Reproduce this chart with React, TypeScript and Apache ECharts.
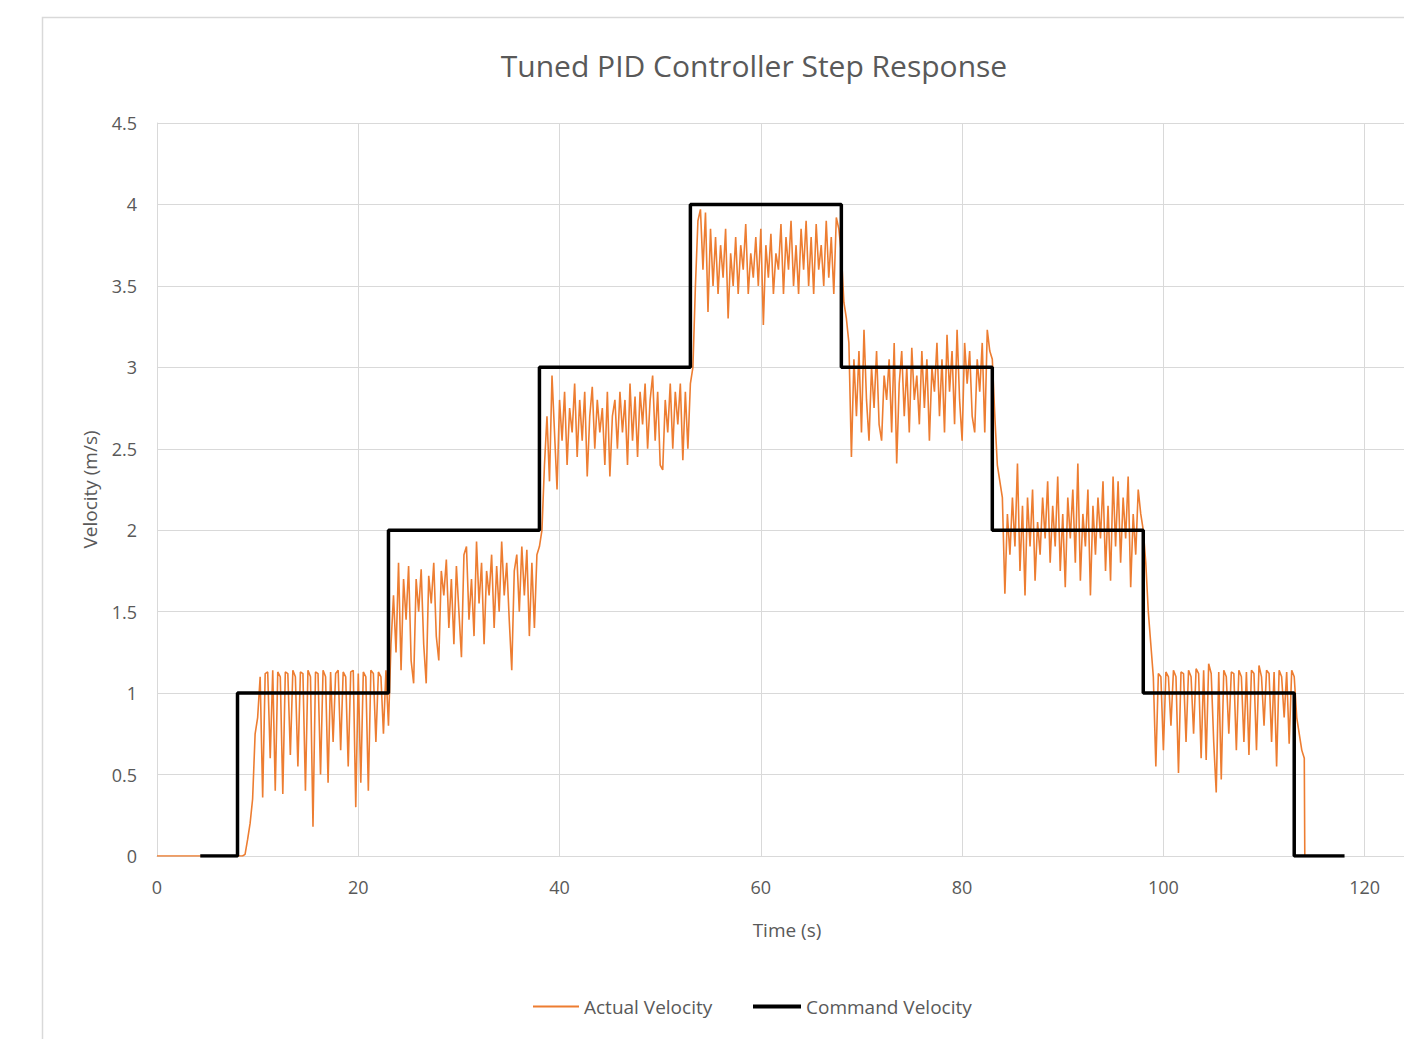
import React, { useEffect, useRef } from "react";
import * as echarts from "echarts";

const title = "Tuned PID Controller Step Response";
const xAxisName = "Time (s)";
const yAxisName = "Velocity (m/s)";
const seriesNames = ["Actual Velocity", "Command Velocity"];

// Command velocity step points (time s, velocity m/s)
const commandTimes = [4.3, 8, 23, 38, 53, 68, 83, 98, 113, 118];
const commandValues = [0, 1, 2, 3, 4, 3, 2, 1, 0, 0];

// Actual velocity: leading flat part and final drop
const actualHead = [[0, 0], [8.5, 0]];
const actualTail = [[114.05, 0]];
const sampleStep = 0.25;

// Samples every 0.25 s, each segment with its start time
const seg1Start = 8.75;
const seg1Values = [0.01, 0.1, 0.2, 0.35, 0.75, 0.85, 1.1, 0.36, 1.12, 1.13, 0.6, 1.14, 0.4, 1.13, 1.1, 0.38, 1.13, 1.12, 0.62, 1.14, 1.1, 0.55, 1.13, 1.12, 0.4, 1.14, 1.1, 0.18, 1.13, 1.12, 0.5, 1.14, 1.1, 0.45, 1.13, 0.7, 1.12, 1.14, 0.65, 1.13, 1.1, 0.55, 1.13, 1.14, 0.3, 1.12, 0.45, 1.13, 1.1, 0.4, 1.14, 1.12, 0.7, 1.13, 1.1, 0.75, 1.14, 0.8];

const seg2Start = 23.25;
const seg2Values = [1.3, 1.6, 1.25, 1.8, 1.14, 1.7, 1.45, 1.78, 1.2, 1.06, 1.7, 1.5, 1.76, 1.3, 1.06, 1.72, 1.55, 1.8, 1.35, 1.2, 1.75, 1.6, 1.82, 1.4, 1.7, 1.3, 1.78, 1.5, 1.22, 1.85, 1.9, 1.45, 1.7, 1.35, 1.93, 1.55, 1.8, 1.3, 1.75, 1.6, 1.85, 1.4, 1.78, 1.5, 1.93, 1.6, 1.8, 1.45, 1.14, 1.75, 1.85, 1.5, 1.9, 1.6, 1.88, 1.35, 1.8, 1.4, 1.85, 1.9];

const seg3Start = 38.25;
const seg3Values = [2.0, 2.4, 2.7, 2.3, 2.95, 2.6, 2.25, 2.8, 2.55, 2.85, 2.4, 2.75, 2.6, 2.9, 2.45, 2.8, 2.55, 2.85, 2.33, 2.7, 2.88, 2.5, 2.8, 2.6, 2.75, 2.4, 2.85, 2.33, 2.7, 2.8, 2.5, 2.85, 2.6, 2.8, 2.4, 2.9, 2.55, 2.82, 2.45, 2.85, 2.65, 2.9, 2.5, 2.8, 2.95, 2.55, 2.85, 2.4, 2.37, 2.8, 2.6, 2.9, 2.5, 2.85, 2.65, 2.9, 2.43, 2.85, 2.5, 2.9];

const seg4Start = 53.25;
const seg4Values = [3.0, 3.5, 3.9, 3.97, 3.6, 3.95, 3.34, 3.85, 3.5, 3.8, 3.45, 3.75, 3.55, 3.85, 3.3, 3.7, 3.5, 3.8, 3.45, 3.75, 3.6, 3.88, 3.45, 3.7, 3.55, 3.8, 3.5, 3.85, 3.26, 3.75, 3.55, 3.82, 3.45, 3.7, 3.6, 3.88, 3.45, 3.8, 3.6, 3.9, 3.5, 3.75, 3.45, 3.85, 3.6, 3.9, 3.5, 3.8, 3.45, 3.88, 3.6, 3.75, 3.5, 3.9, 3.55, 3.8, 3.45, 3.92, 3.85, 3.7, 3.4, 3.3];

const seg5Start = 68.75;
const seg5Values = [3.15, 2.45, 3.05, 2.7, 3.1, 2.6, 3.23, 2.8, 2.55, 3.0, 2.75, 3.1, 2.65, 2.55, 2.95, 2.8, 3.05, 2.6, 3.15, 2.41, 2.9, 3.1, 2.7, 3.0, 2.6, 3.12, 2.8, 2.95, 2.65, 3.1, 2.75, 3.05, 2.55, 3.0, 2.85, 3.15, 2.7, 3.05, 2.6, 3.2, 2.85, 3.1, 2.65, 3.23, 2.8, 2.55, 3.15, 2.9, 3.1, 2.7, 2.6, 3.05, 2.85, 3.15, 2.6, 3.23, 3.1, 3.05, 2.7, 2.4];

const seg6Start = 83.75;
const seg6Values = [2.3, 2.2, 1.61, 2.1, 1.85, 2.2, 1.9, 2.41, 1.75, 2.15, 1.6, 2.2, 1.9, 2.25, 1.69, 2.05, 1.85, 2.2, 1.95, 2.3, 1.8, 2.15, 1.9, 2.33, 1.75, 2.1, 1.65, 2.2, 1.95, 2.25, 1.8, 2.41, 1.69, 2.1, 1.9, 2.25, 1.6, 2.15, 1.85, 2.2, 1.95, 2.3, 1.75, 2.15, 1.69, 2.33, 1.9, 2.3, 1.8, 2.2, 1.95, 2.33, 1.65, 2.1, 1.85, 2.25, 2.1, 2.0, 1.8, 1.5, 1.3];

const seg7Start = 99.0;
const seg7Values = [1.1, 0.55, 1.12, 1.1, 0.65, 1.13, 1.1, 0.8, 1.14, 1.1, 0.51, 1.13, 1.12, 0.7, 1.14, 1.1, 0.75, 1.15, 1.12, 0.6, 1.14, 0.59, 1.18, 1.12, 0.7, 0.39, 1.13, 0.47, 1.14, 1.1, 0.75, 1.13, 1.12, 0.65, 1.14, 1.1, 0.7, 1.13, 0.62, 1.14, 1.12, 0.65, 1.17, 1.1, 0.8, 1.14, 1.12, 0.7, 1.13, 0.55, 1.14, 1.1, 0.85, 1.13, 0.69, 1.14, 1.1, 0.85, 0.75, 0.65, 0.6];

const segments: [number, number[]][] = [
  [seg1Start, seg1Values],
  [seg2Start, seg2Values],
  [seg3Start, seg3Values],
  [seg4Start, seg4Values],
  [seg5Start, seg5Values],
  [seg6Start, seg6Values],
  [seg7Start, seg7Values],
];

const yTicks = [0, 0.5, 1, 1.5, 2, 2.5, 3, 3.5, 4, 4.5];

export default function App() {
  const ref = useRef<HTMLDivElement>(null);
  useEffect(() => {
    if (!ref.current) return;
    const chart = echarts.init(ref.current, undefined, { renderer: "svg" });
    const actualData: number[][] = [...actualHead];
    segments.forEach(([start, vals]) => {
      vals.forEach((v, i) => actualData.push([start + i * sampleStep, v]));
    });
    actualTail.forEach((p) => actualData.push(p));
    const commandData = commandTimes.map((t, i) => [t, commandValues[i]]);
    const font = "'Open Sans', 'Noto Sans', sans-serif";
    const gray = "#595959";
    const legendText = { fontFamily: font, fontSize: 19, color: gray };
    chart.setOption({
      animation: false,
      backgroundColor: "#ffffff",
      textStyle: { fontFamily: font },
      title: {
        text: title,
        left: 749,
        top: 45,
        textAlign: "center",
        textStyle: { fontFamily: font, fontSize: 30, fontWeight: "normal", color: gray },
      },
      graphic: [
        {
          type: "rect",
          shape: { x: 42.5, y: 17.5, width: 1500, height: 1200 },
          style: { fill: "none", stroke: "#d9d9d9", lineWidth: 1.5 },
          silent: true,
          z: -10,
        },
      ],
      legend: [
        {
          data: [{ name: seriesNames[0], icon: "rect" }],
          left: 528,
          top: 992,
          itemWidth: 46,
          itemHeight: 2,
          textStyle: legendText,
        },
        {
          data: [{ name: seriesNames[1], icon: "rect" }],
          left: 748,
          top: 992,
          itemWidth: 48,
          itemHeight: 4,
          textStyle: legendText,
        },
      ],
      grid: { left: 157, right: 13, top: 123, height: 733, containLabel: false },
      xAxis: {
        type: "value",
        min: 0,
        max: 125.2,
        interval: 20,
        name: xAxisName,
        nameLocation: "middle",
        nameGap: 64,
        nameTextStyle: { fontFamily: font, fontSize: 19, color: gray },
        axisLine: { show: true, lineStyle: { color: "#d9d9d9", width: 1 } },
        axisTick: { show: false },
        axisLabel: {
          fontFamily: font,
          fontSize: 18,
          color: gray,
          margin: 22,
          formatter: (v: number) => (v % 20 === 0 ? String(v) : ""),
        },
        splitLine: { show: true, lineStyle: { color: "#d9d9d9", width: 1 } },
      },
      yAxis: {
        type: "value",
        min: yTicks[0],
        max: yTicks[yTicks.length - 1],
        interval: 0.5,
        name: yAxisName,
        nameLocation: "middle",
        nameGap: 58,
        nameTextStyle: { fontFamily: font, fontSize: 19, color: gray },
        axisLine: { show: true, lineStyle: { color: "#d9d9d9", width: 1 } },
        axisTick: { show: false },
        axisLabel: { fontFamily: font, fontSize: 18, color: gray, margin: 20 },
        splitLine: { show: true, lineStyle: { color: "#d9d9d9", width: 1 } },
      },
      series: [
        {
          name: seriesNames[0],
          type: "line",
          data: actualData,
          symbol: "none",
          showSymbol: false,
          lineStyle: { color: "#ED7D31", width: 1.6 },
          itemStyle: { color: "#ED7D31" },
          z: 2,
        },
        {
          name: seriesNames[1],
          type: "line",
          step: "end",
          data: commandData,
          symbol: "none",
          showSymbol: false,
          lineStyle: { color: "#000000", width: 3.5 },
          itemStyle: { color: "#000000" },
          z: 3,
        },
      ],
    });
    return () => chart.dispose();
  }, []);
  return (
    <div style={{ position: "absolute", left: 0, top: 0, width: 1404, height: 1039, overflow: "hidden" }}>
      <div ref={ref} style={{ width: 1430, height: 1039 }} />
    </div>
  );
}
